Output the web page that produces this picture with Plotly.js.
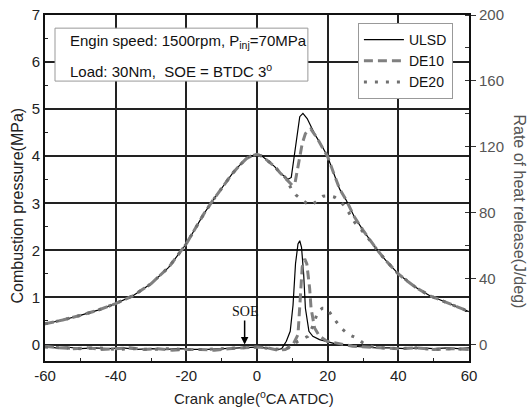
<!DOCTYPE html>
<html>
<head>
<meta charset="utf-8">
<script src="https://cdn.plot.ly/plotly-3.0.1.min.js"></script>
<style>html,body{margin:0;padding:0;background:#fff;}#chart{width:527px;height:408px;}</style>
</head>
<body>
<div id="chart"></div>
<script>
// ---- Data ----
const seriesNames = ["ULSD", "DE10", "DE20"];

// Combustion pressure (MPa)
const pressX_ULSD = [-60,-55,-50,-45,-40,-35,-30,-25,-20,-15,-12.5,-10,-7,-5,-3,-1.5,0,1.5,3.5,5,6.5,8,8.8,9.7,10.6,11.4,12.1,13,14.2,15.5,16.8,18.5,20,21.5,23.4,25.3,27.5,30,33.7,36.5,40,42.5,45,48.8,51,53.6,56.5,60];
const pressY_ULSD = [0.44,0.52,0.62,0.73,0.87,1.04,1.29,1.64,2.14,2.78,3.06,3.33,3.63,3.8,3.95,4.01,4.04,4.0,3.88,3.78,3.65,3.55,3.51,3.55,4.06,4.55,4.84,4.91,4.8,4.6,4.41,4.2,3.99,3.68,3.3,3.06,2.72,2.43,2.04,1.78,1.5,1.35,1.21,1.04,0.97,0.9,0.8,0.7];

const pressX_DE10 = [-60,-55,-50,-45,-40,-35,-30,-25,-20,-15,-12.5,-10,-7,-5,-3,-1.5,0,1.5,3.5,5,6.5,8,9,10,10.8,11.9,12.8,13.7,14.3,15.2,16.8,18.5,20,21.5,23.4,25.3,27.5,30,33.7,36.5,40,42.5,45,48.8,51,53.6,56.5,60];
const pressY_DE10 = [0.44,0.52,0.62,0.73,0.87,1.04,1.29,1.64,2.14,2.78,3.06,3.33,3.63,3.8,3.95,4.01,4.04,4.0,3.88,3.78,3.65,3.53,3.45,3.38,3.45,3.91,4.27,4.48,4.52,4.58,4.41,4.2,3.99,3.68,3.3,3.06,2.72,2.43,2.04,1.78,1.5,1.35,1.21,1.04,0.97,0.9,0.8,0.7];

const pressX_DE20 = [-60,-55,-50,-45,-40,-35,-30,-25,-20,-15,-12.5,-10,-7,-5,-3,-1.5,0,1.5,3.5,5,6.5,8,9.7,11,12.3,14,15.4,17,18.7,20.5,22,23.5,25.3,27.6,30.4,33.7,36.5,40,42.5,45,48.8,51,53.6,56.5,60];
const pressY_DE20 = [0.44,0.52,0.62,0.73,0.87,1.04,1.29,1.64,2.14,2.78,3.06,3.33,3.63,3.8,3.95,4.01,4.04,4.0,3.88,3.78,3.65,3.55,3.31,3.18,3.1,3.0,2.96,3.05,3.15,3.16,3.13,3.05,2.89,2.6,2.36,2.04,1.78,1.5,1.35,1.21,1.04,0.97,0.9,0.8,0.7];

// Rate of heat release (J/deg)
const hrrX_ULSD = [-60,-57,-54,-50,-46,-42,-38,-34,-30,-26,-22,-18,-14,-10,-6,-3,0,2,4,6,7,8.3,9.4,10.2,10.9,11.6,12.1,12.6,13.2,13.7,14.7,15.8,17.7,19.8,22,24.5,27,30,34,38,42,46,50,54,57,60];
const hrrY_ULSD = [-1,-2,-1.5,-2.5,-2,-2.5,-2,-3,-2.5,-3,-2.5,-3,-3,-2.5,-2,-1.5,-1.5,-2,-2.5,-3,-2.5,2,8,24,49,61,63,59,43,22,8,5,3,1.6,0.5,0,-1,-1.5,-2,-2,-2.5,-2,-2.5,-2,-2.5,-2];

const hrrX_DE10 = [-60,-56,-52,-48,-44,-40,-36,-32,-28,-24,-20,-16,-12,-8,-4,0,3,6,8,10.2,11.6,12.3,12.8,13.5,14.1,14.9,15.3,16.3,17.7,19.8,23,27,31,35,40,45,50,55,60];
const hrrY_DE10 = [-1,-2,-2.5,-2,-3,-2.5,-2,-3,-2.5,-3.5,-3,-3,-3.5,-2.5,-2,-1.5,-2,-3.5,-3,0,6,30,47,52,49,34,22,10,5,2,0.5,-1,-1.5,-2,-2.5,-2,-3,-2.5,-3];

const hrrX_DE20 = [-60,-55,-50,-45,-40,-35,-30,-25,-20,-15,-10,-5,0,4,7,9,11.6,13,14.4,16,17.2,18.5,19.8,21.7,23.8,26,28.1,30,32.1,35,40,45,50,55,60];
const hrrY_DE20 = [-1.5,-2,-2.5,-2,-3,-2.5,-3,-2.5,-3,-3,-2.5,-2,-1.5,-2.5,-3,-2,2,3.5,5,12,20,22,22,16,10,6,4,1,-1,-2,-2.5,-2,-3,-2.5,-3];

const xTicks = [-60,-40,-20,0,20,40,60];
const yTicks = [0,1,2,3,4,5,6,7];
const y2Ticks = [0,40,80,120,160,200];

// ---- Styles ----
const FONT = "Liberation Sans, Arial, sans-serif";
const styles = [
  {color:"#000000", width:1.2, dash:"solid"},
  {color:"#808080", width:3, dash:"9px,5px"},
  {color:"#707070", width:3, dash:"3px,8px"}
];

const pressX = [pressX_ULSD, pressX_DE10, pressX_DE20];
const pressY = [pressY_ULSD, pressY_DE10, pressY_DE20];
const hrrX = [hrrX_ULSD, hrrX_DE10, hrrX_DE20];
const hrrY = [hrrY_ULSD, hrrY_DE10, hrrY_DE20];

const traces = [];
for (let i = 0; i < 3; i++) {
  traces.push({x: pressX[i], y: pressY[i], type:"scatter", mode:"lines", name: seriesNames[i],
    line: styles[i], xaxis:"x", yaxis:"y", showlegend:true, hoverinfo:"skip"});
}
for (let i = 0; i < 3; i++) {
  traces.push({x: hrrX[i], y: hrrY[i], type:"scatter", mode:"lines", name: seriesNames[i],
    line: styles[i], xaxis:"x", yaxis:"y2", showlegend:false, hoverinfo:"skip"});
}

const layout = {
  width: 527, height: 408,
  margin: {l:45, r:58, t:15, b:47, pad:0},
  paper_bgcolor:"#ffffff", plot_bgcolor:"#ffffff",
  font: {family: FONT, size: 15, color:"#222"},
  showlegend: true,
  legend: {x:0.738, y:0.977, xanchor:"left", yanchor:"top", bgcolor:"#ffffff",
    bordercolor:"#999", borderwidth:1, font:{family:FONT, size:14, color:"#111"}, itemwidth:40,
    tracegroupgap:0},
  xaxis: {range:[xTicks[0], xTicks[xTicks.length-1]], tickvals:xTicks, ticktext:xTicks.map(String),
    showgrid:true, gridcolor:"#222", gridwidth:2,
    zeroline:false, showline:true, linecolor:"#111", linewidth:2, mirror:true,
    ticks:"inside", ticklen:4, tickcolor:"#222",
    minor:{dtick:10, tick0:0, ticks:"inside", ticklen:3, tickcolor:"#222", showgrid:false},
    tickfont:{family:FONT, size:15, color:"#222"}},
  yaxis: {range:[-0.35, yTicks[yTicks.length-1]], tickvals:yTicks, ticktext:yTicks.map(String),
    showgrid:true, gridcolor:"#222", gridwidth:2,
    zeroline:false, showline:true, linecolor:"#111", linewidth:2,
    ticks:"inside", ticklen:4, tickcolor:"#222",
    minor:{dtick:0.5, tick0:0, ticks:"inside", ticklen:3, tickcolor:"#222", showgrid:false},
    tickfont:{family:FONT, size:15, color:"#222"}},
  yaxis2: {range:[-10, y2Ticks[y2Ticks.length-1]], overlaying:"y", side:"right", tickvals:y2Ticks, ticktext:y2Ticks.map(String),
    showgrid:false, zeroline:false, showline:true, linecolor:"#111", linewidth:2,
    ticks:"outside", ticklen:5, tickcolor:"#333",
    minor:{dtick:20, tick0:0, ticks:"inside", ticklen:4, tickcolor:"#333", showgrid:false},
    tickfont:{family:FONT, size:15, color:"#555"}},
  shapes: [
    {type:"rect", xref:"paper", yref:"paper", x0:0.0236, x1:0.62, y0:0.809, y1:0.962,
     line:{color:"#999", width:1}, fillcolor:"#ffffff", layer:"above"}
  ],
  annotations: [
    {xref:"paper", yref:"paper", x:0.054, y:0.923, xanchor:"left", yanchor:"middle", showarrow:false,
     text:"Engin speed: 1500rpm, P<sub>inj</sub>=70MPa", font:{family:FONT, size:15, color:"#111"}},
    {xref:"paper", yref:"paper", x:0.054, y:0.841, xanchor:"left", yanchor:"middle", showarrow:false,
     text:"Load: 30Nm,  SOE = BTDC 3<sup>o</sup>", font:{family:FONT, size:15, color:"#111"}},
    {xref:"x", yref:"y", x:-3.5, y:0.0, ax:0, ay:-33, showarrow:true, arrowhead:2, arrowsize:1, arrowwidth:1.5,
     arrowcolor:"#000", standoff:0, text:"SOE", font:{family:"Liberation Serif, Times New Roman, serif", size:14, color:"#111"}},
    {xref:"paper", yref:"paper", x:0.492, y:-0.106, xanchor:"center", yanchor:"middle", showarrow:false,
     text:"Crank angle(<sup>o</sup>CA ATDC)", font:{family:FONT, size:15, color:"#222"}},
    {xref:"paper", yref:"paper", x:-0.0656, y:0.45, xanchor:"center", yanchor:"middle", showarrow:false, textangle:-90,
     text:"Combustion pressure(MPa)", font:{family:FONT, size:16, color:"#222"}},
    {xref:"paper", yref:"paper", x:1.1196, y:0.433, xanchor:"center", yanchor:"middle", showarrow:false, textangle:90,
     text:"Rate of heat release(J/deg)", font:{family:FONT, size:16, color:"#555"}}
  ]
};

Plotly.newPlot("chart", traces, layout, {displayModeBar:false});
</script>
</body>
</html>
